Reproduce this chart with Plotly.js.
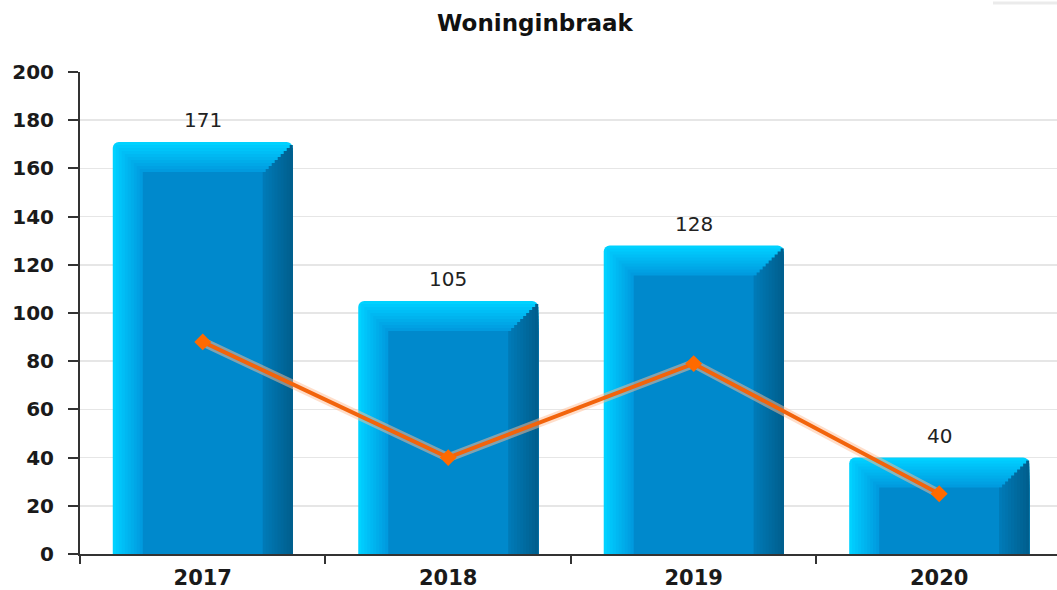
<!DOCTYPE html>
<html>
<head>
<meta charset="utf-8">
<script src="https://cdn.plot.ly/plotly-3.0.1.min.js"></script>
<style>html,body{margin:0;padding:0;background:#fff;}#chart{width:1057px;height:590px;}</style>
</head>
<body>
<div id="chart"></div>
<script>
// ---- data ----
const years = ["2017", "2018", "2019", "2020"];
const barValues = [171, 105, 128, 40];
const lineValues = [88, 40, 79, 25];
const yTicks = [0, 20, 40, 60, 80, 100, 120, 140, 160, 180, 200];

// ---- geometry helpers (derived from layout) ----
const W = 1057, H = 590;
const M = {l: 80, r: 0, t: 72, b: 36};
const xRange = [-0.5, 3.48];
const yRange = [0, 200];
const pxX = (W - M.l - M.r) / (xRange[1] - xRange[0]);
const pxY = (H - M.t - M.b) / (yRange[1] - yRange[0]);
const barW = 0.733, hw = barW / 2;
const steps = 10, stepPx = 3;
const sx = stepPx / pxX, sy = stepPx / pxY;

function mix(a, b, t) {
  const pa = [1,3,5].map(i => parseInt(a.substr(i,2),16));
  const pb = [1,3,5].map(i => parseInt(b.substr(i,2),16));
  return 'rgb(' + pa.map((v,k) => Math.round(v + (pb[k]-v)*t)).join(',') + ')';
}

const traces = [];
// base bar
traces.push({
  type: 'bar', x: years, y: barValues, width: barW, offset: -hw,
  marker: {color: '#00d2ff', cornerradius: 6, line: {width: 0}},
  hoverinfo: 'skip', showlegend: false
});
// left/top bevel nested layers
for (let i = 1; i <= steps; i++) {
  const c = i < steps ? mix('#00cafd', '#009bdf', (i-1)/(steps-2)) : '#0089cc';
  traces.push({
    type: 'bar', x: years, y: barValues.map(v => v - i*sy),
    width: barW - i*sx, offset: -hw + i*sx,
    marker: {color: c, line: {width: 0}},
    hoverinfo: 'skip', showlegend: false
  });
}
// right bevel staircase
for (let j = steps; j >= 1; j--) {
  const c = mix('#007ab7', '#005f8e', (steps-j)/(steps-1));
  traces.push({
    type: 'bar', x: years, y: barValues.map(v => v - j*sy),
    width: j*sx, offset: hw - j*sx,
    marker: {color: c, line: {width: 0}},
    hoverinfo: 'skip', showlegend: false
  });
}
// line glow
traces.push({
  type: 'scatter', mode: 'lines', x: years, y: lineValues,
  line: {color: 'rgba(255,190,150,0.5)', width: 9},
  hoverinfo: 'skip', showlegend: false
});
// line
traces.push({
  type: 'scatter', mode: 'lines+markers', x: years, y: lineValues,
  line: {color: '#f2640c', width: 4},
  marker: {symbol: 'diamond', size: 13, color: '#ff6a00'},
  hoverinfo: 'skip', showlegend: false
});

// value labels (category axis: position by index)
const annotations = years.map((yr, k) => ({
  x: k, y: barValues[k], xref: 'x', yref: 'y',
  text: String(barValues[k]), showarrow: false,
  xanchor: 'center', yanchor: 'bottom', yshift: 8,
  font: {family: 'DejaVu Sans', size: 20, color: '#222'}
}));

const layout = {
  width: W, height: H,
  margin: M,
  paper_bgcolor: '#fff', plot_bgcolor: '#fff',
  barmode: 'overlay',
  showlegend: false,
  title: {
    text: 'Woninginbraak', xref: 'container', yref: 'container',
    x: 535 / W, y: 1 - 23 / H, xanchor: 'center', yanchor: 'middle',
    font: {family: 'DejaVu Sans', size: 23, weight: 'bold', color: '#111'}
  },
  xaxis: {
    type: 'category', range: xRange, fixedrange: true,
    showgrid: false, zeroline: false,
    showline: true, linecolor: '#333', linewidth: 2,
    ticks: 'outside', tickson: 'boundaries', ticklen: 8, tickwidth: 2, tickcolor: '#333',
    ticklabelstandoff: 4,
    tickfont: {family: 'DejaVu Sans', size: 21, weight: 'bold', color: '#1a1a1a'}
  },
  yaxis: {
    range: yRange, tickvals: yTicks, fixedrange: true,
    showgrid: true, gridcolor: '#e6e6e6', gridwidth: 1.5, zeroline: false,
    showline: true, linecolor: '#333', linewidth: 2,
    ticks: 'outside', ticklen: 10, tickwidth: 2, tickcolor: '#333',
    ticklabelstandoff: 10,
    tickfont: {family: 'DejaVu Sans', size: 20, weight: 'bold', color: '#1a1a1a'}
  },
  annotations: annotations,
  shapes: [{
    type: 'line', xref: 'paper', yref: 'paper',
    x0: (993 - M.l) / (W - M.l - M.r), x1: 1,
    y0: (H - M.b - 3) / (H - M.t - M.b), y1: (H - M.b - 3) / (H - M.t - M.b),
    line: {color: '#ebebeb', width: 3}
  }]
};

Plotly.newPlot('chart', traces, layout, {staticPlot: true, displayModeBar: false});
</script>
</body>
</html>
